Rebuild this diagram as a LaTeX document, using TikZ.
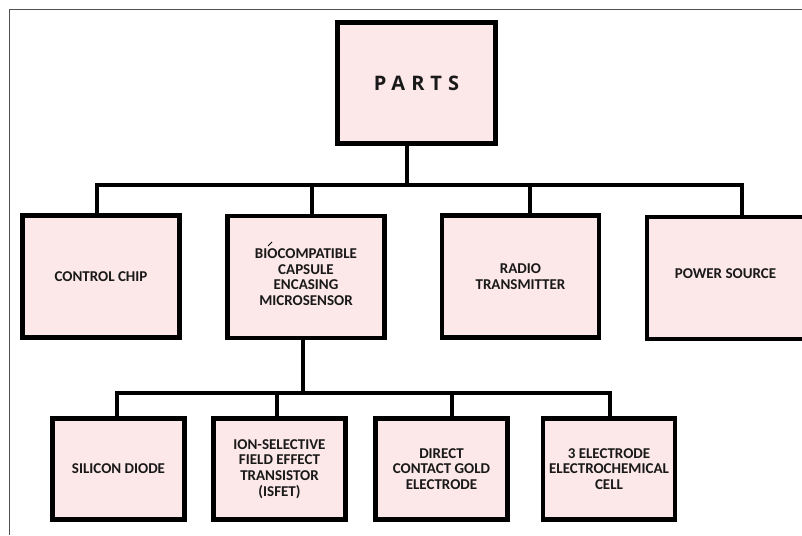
\documentclass[tikz,border=0pt]{standalone}
\usepackage{fontspec}
\setmainfont{Carlito}
\newfontfamily\partsfont[LetterSpace=30]{Open Sans}
\usepackage{tikz}
\usetikzlibrary{positioning}
\usetikzlibrary{shadows}
\definecolor{partpink}{RGB}{252,231,233}
\definecolor{framegray}{RGB}{80,80,80}
\tikzset{
    part/.style={draw=black, line width=4.5pt, fill=partpink, align=center,
        text=black!90, font=\bfseries\fontsize{15}{15.7}\selectfont,
        drop shadow={shadow xshift=-1.5pt, shadow yshift=-2pt, opacity=.35}},
    big part/.style={part, minimum width=157pt, minimum height=122pt},
    small part/.style={part, minimum width=132pt, minimum height=101pt},
    wire/.style={line width=4.5pt}
}

\begin{document}
\begin{tikzpicture}[x=1pt, y=-1pt]
    \useasboundingbox (0,0) rectangle (802,535);
    \draw[framegray, line width=1pt] (9,535) -- (9,10) -- (802,10);

    \node[part, minimum width=158pt, minimum height=121pt,
        font=\partsfont\bfseries\fontsize{20}{22}\selectfont] (parts) at (416.5,83) {PARTS};

    \node[big part] (chip) at (101,276.5) {CONTROL CHIP};
    \node[big part] (bio) at (306,277) {BIOCOMPATIBLE\\CAPSULE\\ENCASING\\MICROSENSOR};
    \node[big part] (radio) at (520.5,276.5) {RADIO\\TRANSMITTER};
    \node[big part] (power) at (725.5,278) {\raisebox{8pt}{POWER SOURCE}};

    \node[small part] (diode) at (118.5,469) {SILICON DIODE};
    \node[small part] (isfet) at (279.5,469) {ION-SELECTIVE\\FIELD EFFECT\\TRANSISTOR\\(ISFET)};
    \node[small part] (gold) at (441.5,469) {DIRECT\\CONTACT GOLD\\ELECTRODE};
    \node[small part] (cell) at (609,469) {3 ELECTRODE\\ELECTROCHEMICAL\\CELL};

    \draw[line width=.8pt] (268,246) -- (272,242);

    \coordinate (bus) at (407,185);
    \coordinate (subbus) at (303,393);

    \draw[wire] ([xshift=-9.5pt]parts.south) -- (bus);
    \draw[wire] ([xshift=-4pt]chip.north) |- (bus) -| ([xshift=16.5pt]power.north);
    \draw[wire] ([xshift=6pt]bio.north) -- ([xshift=6pt]bio.north |- bus);
    \draw[wire] ([xshift=9.5pt]radio.north) -- ([xshift=9.5pt]radio.north |- bus);

    \draw[wire] ([xshift=-3pt]bio.south) -- (subbus);
    \draw[wire] ([xshift=-1.5pt]diode.north) |- (subbus) -| ([xshift=1pt]cell.north);
    \draw[wire] ([xshift=-2.5pt]isfet.north) -- ([xshift=-2.5pt]isfet.north |- subbus);
    \draw[wire] ([xshift=10.5pt]gold.north) -- ([xshift=10.5pt]gold.north |- subbus);
\end{tikzpicture}
\end{document}
